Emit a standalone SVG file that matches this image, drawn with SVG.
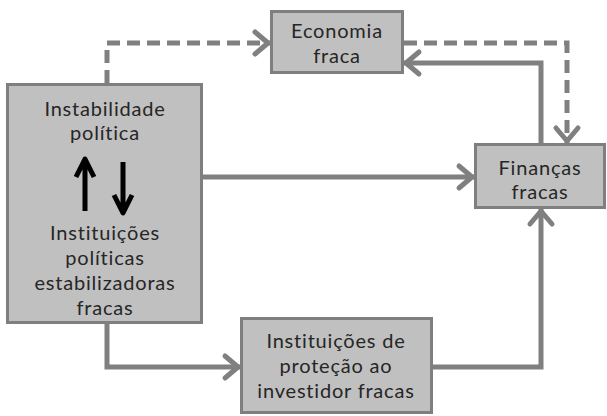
<svg xmlns="http://www.w3.org/2000/svg" width="607" height="416" viewBox="0 0 607 416">
<defs>
<style>
.box{fill:#c0c0c0;stroke:#7f7f7f;stroke-width:3}
.t{font-family:Lato,"Open Sans","Liberation Sans",sans-serif;font-size:20px;letter-spacing:0.8px;fill:#262626;text-anchor:middle}
.c{fill:none;stroke:#808080;stroke-width:5;marker-end:url(#ah)}
.d{stroke-dasharray:13 7}
.bk{fill:none;stroke:#000;stroke-width:5;stroke-linejoin:round}
</style>
<marker id="ah" markerUnits="userSpaceOnUse" markerWidth="26" markerHeight="28" refX="19" refY="13" orient="auto" overflow="visible">
<path d="M4,2 L17,13 L4,24" fill="none" stroke="#808080" stroke-width="5" stroke-dasharray="none" stroke-linecap="round" stroke-linejoin="round"/>
</marker>
</defs>
<rect width="607" height="416" fill="#fff"/>
<g id="connectors">
<path class="c d" d="M107,83 V43 H270"/>
<path class="c d" d="M404,43 H567 V143"/>
<path class="c" d="M541,143 V63 H404"/>
<path class="c" d="M203,177 H474"/>
<path class="c" d="M107,324 V367 H240"/>
<path class="c" d="M433,367 H541 V209"/>
</g>
<g id="instabilidade">
<rect class="box" x="7.5" y="84.5" width="194" height="238"/>
<text class="t" x="105" y="116">Instabilidade</text>
<text class="t" x="105" y="140">política</text>
<path class="bk" d="M85,211 V160 M76,177 L85,159 L94,177"/>
<path class="bk" d="M123,162 V213 M114,195 L123,213 L132,195"/>
<text class="t" x="105" y="240">Instituições</text>
<text class="t" x="105" y="265">políticas</text>
<text class="t" x="105" y="290">estabilizadoras</text>
<text class="t" x="105" y="315">fracas</text>
</g>
<g id="economia">
<rect class="box" x="271.5" y="11.5" width="131" height="61"/>
<text class="t" x="337" y="38">Economia</text>
<text class="t" x="337" y="63">fraca</text>
</g>
<g id="financas">
<rect class="box" x="475.5" y="144.5" width="129" height="63"/>
<text class="t" x="540" y="175">Finanças</text>
<text class="t" x="540" y="199">fracas</text>
</g>
<g id="protecao">
<rect class="box" x="241.5" y="318.5" width="190" height="94"/>
<text class="t" x="336" y="348">Instituições de</text>
<text class="t" x="336" y="373">proteção ao</text>
<text class="t" x="336" y="398">investidor fracas</text>
</g>
</svg>
